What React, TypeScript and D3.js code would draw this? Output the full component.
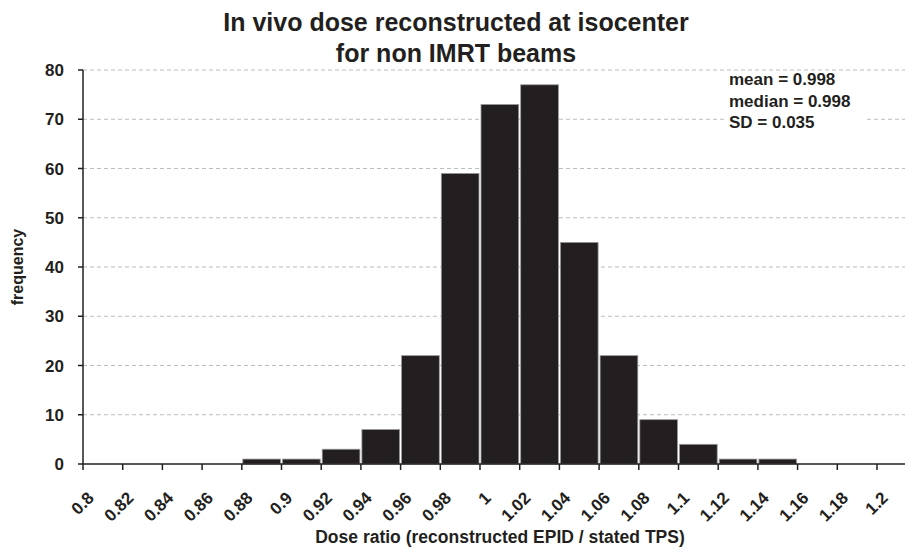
import React from "react";
import { scaleLinear } from "d3";

// histogram bins (lower edge) and counts
const binStarts = [0.88, 0.9, 0.92, 0.94, 0.96, 0.98, 1.0, 1.02, 1.04, 1.06, 1.08, 1.1, 1.12, 1.14];
const counts = [1, 1, 3, 7, 22, 59, 73, 77, 45, 22, 9, 4, 1, 1];
const binWidth = 0.02;

const xTicks = [0.8, 0.82, 0.84, 0.86, 0.88, 0.9, 0.92, 0.94, 0.96, 0.98, 1, 1.02, 1.04, 1.06, 1.08, 1.1, 1.12, 1.14, 1.16, 1.18, 1.2];
const yTicks = [0, 10, 20, 30, 40, 50, 60, 70, 80];
const stats = ["mean = 0.998", "median = 0.998", "SD = 0.035"];

const W = 907;
const H = 550;
const left = 83;
const right = 905;
const top = 70;
const bottom = 464;
const font = "'Liberation Sans', Arial, sans-serif";

const App = () => {
  const x = scaleLinear()
    .domain([0.8, 0.8 + ((right - left) / 39.7) * 0.02])
    .range([left, right]);
  const y = scaleLinear().domain([0, 80]).range([bottom, top]);

  return (
    <svg width={W} height={H} style={{ position: "absolute", left: 0, top: 0 }} fontFamily={font} fontWeight="bold">
      <rect width={W} height={H} fill="#fff" />

      {/* title */}
      <text x={456} y={31} fontSize={25} textAnchor="middle" fill="#231f20">
        In vivo dose reconstructed at isocenter
      </text>
      <text x={456} y={62} fontSize={25} textAnchor="middle" fill="#231f20">
        for non IMRT beams
      </text>

      {/* gridlines */}
      {yTicks.filter(d => d > 0).map(d => (
        <line key={d} x1={left} x2={right} y1={y(d)} y2={y(d)} stroke="#bdbdbd" strokeWidth={1} strokeDasharray="4 3" />
      ))}

      {/* bars */}
      {binStarts.map((b, i) => (
        <rect
          key={b}
          x={x(b) + 1}
          y={y(counts[i])}
          width={x(b + binWidth) - x(b) - 2}
          height={y(0) - y(counts[i])}
          fill="#231f20"
          stroke="#9a9a9a"
          strokeWidth={0.8}
        />
      ))}

      {/* stats box */}
      <rect x={724} y={72} width={140} height={62} fill="#fff" />
      {stats.map((s, i) => (
        <text key={s} x={729} y={85 + i * 21.5} fontSize={17} fill="#231f20">
          {s}
        </text>
      ))}

      {/* y axis */}
      <line x1={left} x2={left} y1={top} y2={bottom} stroke="#231f20" strokeWidth={1.5} />
      {yTicks.map(d => (
        <g key={d}>
          <line x1={left - 5} x2={left} y1={y(d)} y2={y(d)} stroke="#231f20" strokeWidth={1.5} />
          <text x={64} y={y(d) + 6} fontSize={17} textAnchor="end" fill="#231f20">
            {d}
          </text>
        </g>
      ))}
      <text transform={`translate(23, ${(top + bottom) / 2}) rotate(-90)`} fontSize={16} textAnchor="middle" fill="#231f20">
        frequency
      </text>

      {/* x axis */}
      <line x1={left} x2={right} y1={bottom} y2={bottom} stroke="#231f20" strokeWidth={1.5} />
      {xTicks.map(d => (
        <g key={d}>
          <line x1={x(d)} x2={x(d)} y1={bottom} y2={bottom + 6} stroke="#231f20" strokeWidth={1.5} />
          <text
            transform={`translate(${x(d) + 12}, ${bottom + 35}) rotate(-45)`}
            fontSize={17}
            textAnchor="end"
            fill="#231f20"
          >
            {String(d)}
          </text>
        </g>
      ))}
      <text x={500} y={543} fontSize={17.5} textAnchor="middle" fill="#231f20">
        Dose ratio (reconstructed EPID / stated TPS)
      </text>
    </svg>
  );
};

export default App;
